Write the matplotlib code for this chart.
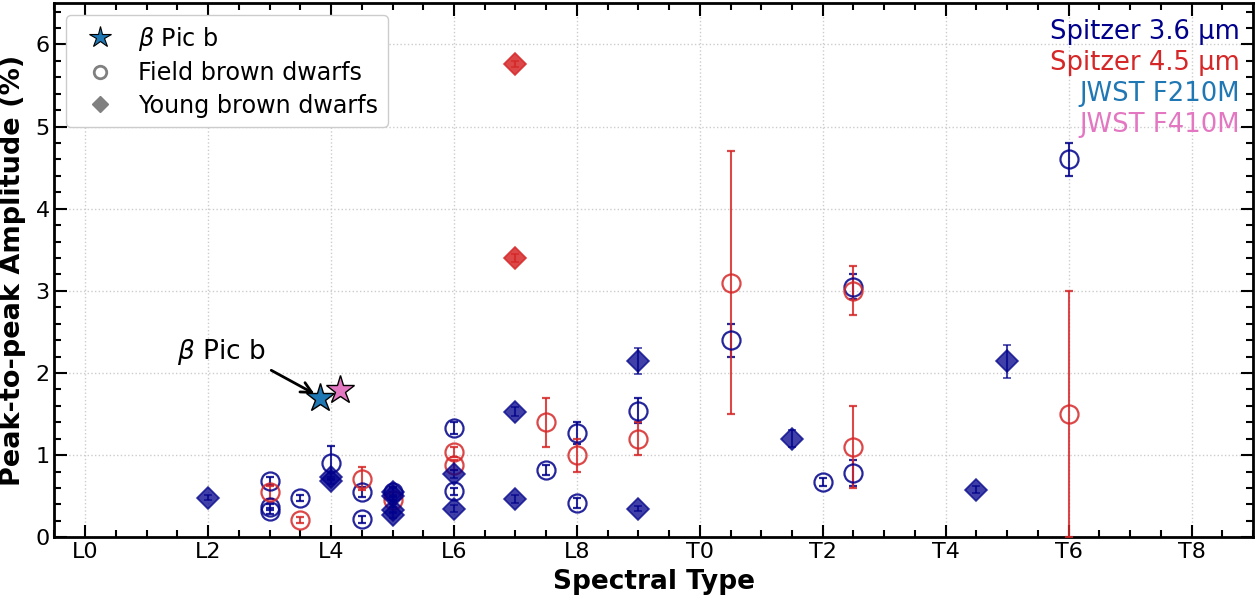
import numpy as np
import matplotlib
matplotlib.use("Agg")
import matplotlib.pyplot as plt
from matplotlib.lines import Line2D

# spectral type as number: L0 = 10, T0 = 20
# Spitzer 3.6 um, field brown dwarfs (open circles)
f36_spt = [13, 13, 13, 13.5, 14, 14.5, 14.5, 15, 16, 16, 17.5, 18, 18, 19, 20.5, 22, 22.5, 22.5, 26]
f36_amp = [0.69, 0.37, 0.32, 0.48, 0.91, 0.55, 0.22, 0.55, 1.33, 0.56, 0.82, 1.27, 0.42, 1.54, 2.40, 0.67, 3.05, 0.78, 4.60]
f36_err = [0.05, 0.04, 0.04, 0.04, 0.20, 0.06, 0.04, 0.06, 0.07, 0.04, 0.06, 0.13, 0.06, 0.15, 0.20, 0.05, 0.15, 0.16, 0.20]

# Spitzer 4.5 um, field brown dwarfs
f45_spt = [13, 13.5, 14.5, 15, 16, 16, 17.5, 18, 19, 20.5, 22.5, 22.5, 26]
f45_amp = [0.55, 0.21, 0.71, 0.46, 1.04, 0.88, 1.40, 1.00, 1.20, 3.10, 3.00, 1.10, 1.50]
f45_err = [0.08, 0.04, 0.14, 0.05, 0.06, 0.06, 0.30, 0.20, 0.20, 1.60, 0.30, 0.50, 1.50]

# Spitzer 3.6 um, young brown dwarfs (diamonds)
y36_spt = [12, 14, 14, 15, 15, 15, 15, 16, 16, 17, 17, 19, 19, 21.5, 24.5, 25]
y36_amp = [0.48, 0.74, 0.69, 0.55, 0.50, 0.33, 0.27, 0.77, 0.35, 1.53, 0.47, 2.15, 0.35, 1.20, 0.58, 2.14]
y36_err = [0.03, 0.04, 0.04, 0.05, 0.05, 0.04, 0.04, 0.05, 0.04, 0.05, 0.05, 0.16, 0.03, 0.10, 0.04, 0.20]

# Spitzer 4.5 um, young brown dwarfs
y45_spt = [17, 17]
y45_amp = [5.76, 3.40]
y45_err = [0.04, 0.05]

# beta Pic b (JWST)
bp_spt = [13.82, 14.15]
bp_amp = [1.70, 1.79]
bp_col = ["tab:blue", "tab:pink"]

xticks = [10, 12, 14, 16, 18, 20, 22, 24, 26, 28]
xlabels = ["L0", "L2", "L4", "L6", "L8", "T0", "T2", "T4", "T6", "T8"]

band_txt = ["Spitzer 3.6 µm", "Spitzer 4.5 µm", "JWST F210M", "JWST F410M"]
band_col = ["darkblue", "tab:red", "tab:blue", "tab:pink"]

fig, ax = plt.subplots(figsize=(12.55, 6), dpi=100)
fig.subplots_adjust(left=0.0434, right=0.9984, bottom=0.1045, top=0.9945)

ekw = dict(ls="none", capsize=3, capthick=1.5, elinewidth=1.5)
ax.errorbar(f36_spt, f36_amp, yerr=f36_err, fmt="o", ms=13, mfc="none", mew=1.6,
            color="darkblue", alpha=0.85, zorder=3, **ekw)
ax.errorbar(f45_spt, f45_amp, yerr=f45_err, fmt="o", ms=13, mfc="none", mew=1.6,
            color="tab:red", alpha=0.85, zorder=3, **ekw)
ax.errorbar(y36_spt, y36_amp, yerr=y36_err, fmt="D", ms=11, mew=1.2,
            color="darkblue", alpha=0.75, zorder=3, **ekw)
ax.errorbar(y45_spt, y45_amp, yerr=y45_err, fmt="D", ms=11.5, mew=1.2,
            color="tab:red", alpha=0.85, zorder=3, **ekw)

for s, a, c in zip(bp_spt[::-1], bp_amp[::-1], bp_col[::-1]):
    ax.plot(s, a, marker="*", ms=21, mfc=c, mec="k", mew=1, ls="none", zorder=5)

ax.annotate(r"$\beta$ Pic b", xy=(bp_spt[0] - 0.05, bp_amp[0] + 0.03), xytext=(11.5, 2.25),
            fontsize=19, ha="left", va="center",
            arrowprops=dict(arrowstyle="->", color="k", lw=2, relpos=(1.0, 0.0),
                            shrinkA=2, shrinkB=2), zorder=6)

for i, (t, c) in enumerate(zip(band_txt, band_col)):
    ax.text(0.989, 0.946 - i * 0.058, t, color=c, fontsize=18.6, ha="right", va="center",
            transform=ax.transAxes)

handles = [
    Line2D([], [], marker="*", ls="none", ms=16, mfc="tab:blue", mec="k", mew=0.8),
    Line2D([], [], marker="o", ls="none", ms=9, mfc="none", mec="gray", mew=2),
    Line2D([], [], marker="D", ls="none", ms=8, color="gray"),
]
ax.legend(handles, [r"$\beta$ Pic b", "Field brown dwarfs", "Young brown dwarfs"],
          loc="upper left", fontsize=17.2, handletextpad=0.6, borderpad=0.4,
          labelspacing=0.35, framealpha=1, edgecolor="#cccccc")

ax.set_xlim(9.5, 29)
ax.set_ylim(0, 6.5)
ax.set_xticks(xticks)
ax.set_xticklabels(xlabels)
ax.set_xticks(np.arange(9.5, 29.01, 0.5), minor=True)
ax.set_yticks(range(0, 7))
ax.set_yticks(np.arange(0, 6.51, 0.2), minor=True)
ax.tick_params(which="both", direction="in", top=True, right=True, labelsize=16, width=1.5)
ax.tick_params(which="major", length=9)
ax.tick_params(which="minor", length=5)
for sp in ax.spines.values():
    sp.set_linewidth(2)
ax.grid(True, which="major", ls=":", color="#cccccc", lw=1)
ax.set_axisbelow(True)

ax.set_xlabel("Spectral Type", fontsize=19, fontweight="bold", labelpad=5)
ax.set_ylabel("Peak-to-peak Amplitude (%)", fontsize=19.5, fontweight="bold", labelpad=7)

fig.savefig("out.png", dpi=100)
